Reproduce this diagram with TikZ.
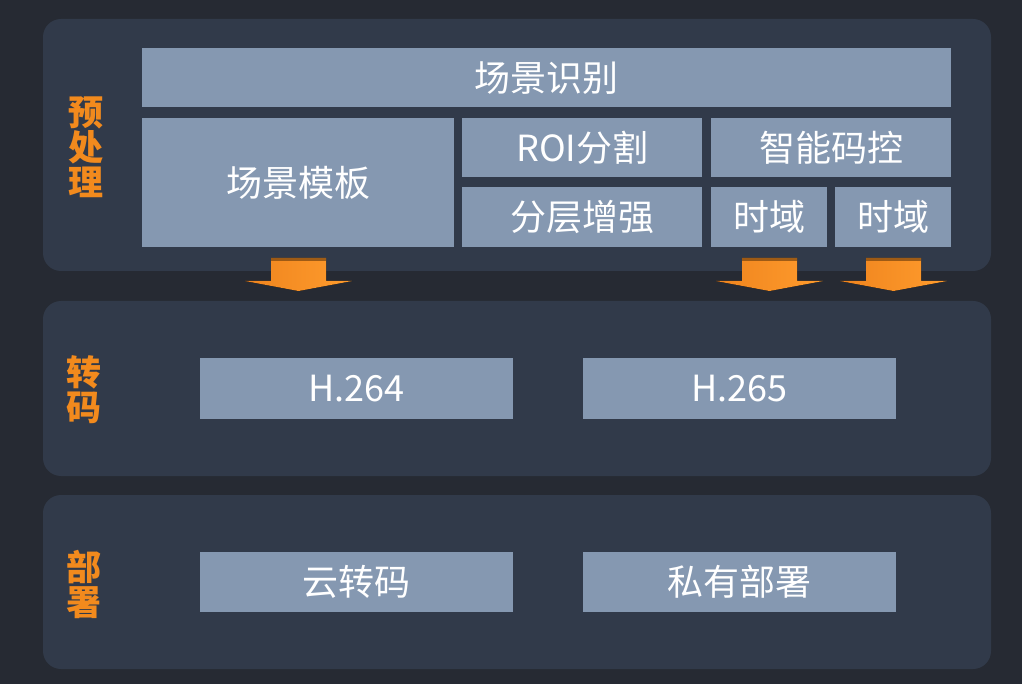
\documentclass[tikz,border=0pt]{standalone}
\usepackage{fontspec}
\setmainfont{Noto Sans CJK SC}
\definecolor{bgc}{HTML}{262A33}
\definecolor{panelc}{HTML}{313A4A}
\definecolor{boxc}{HTML}{8598B1}
\definecolor{orangec}{HTML}{F28A1D}
\definecolor{arrl}{HTML}{EF841E}
\definecolor{arrr}{HTML}{FF9C2D}
\tikzset{
  panel/.style={fill=panelc, draw=none, rounded corners=18pt},
  blk/.style={fill=boxc, draw=none, inner sep=0pt, text=white, font=\fontsize{36}{40}\selectfont},
  sidelabel/.style={text=orangec, font=\fontsize{35}{35}\selectfont\bfseries, align=center, inner sep=0pt},
  arrowshape/.style={left color=arrl, right color=arrr, draw=none},
}
\newcommand{\boxat}[6]{% name, x1, y1, x2, y2, text
  \node[blk, minimum width=#4pt-#2pt, minimum height=#5pt-#3pt, anchor=north west] (#1) at (#2,#3) {#6};}
\newcommand{\downarrowat}[1]{% x of left shaft edge
  \fill[arrowshape] (#1,258) -- ++(55,0) -- ++(0,23) -- ++(26,0) -- ++(-53.5,10) -- ++(-53.5,-10) -- ++(26,0) -- cycle;
  \fill[black!50!orangec, opacity=0.7] (#1,258) rectangle ++(55,3);}
\begin{document}
\begin{tikzpicture}[x=1pt,y=-1pt]
\fill[bgc] (0,0) rectangle (1022,684);
\useasboundingbox (0,0) rectangle (1022,684);
% panels
\fill[panel] (43,19) rectangle (991,271);
\fill[panel] (43,301) rectangle (991,476);
\fill[panel] (43,495) rectangle (991,669);
% preprocess blocks
\boxat{sjsb}{142}{48}{951}{107}{场景识别}
\boxat{sjmb}{142}{118}{454}{247}{场景模板}
\boxat{roi}{462}{118}{702}{177}{ROI分割}
\boxat{znmk}{711}{118}{951}{177}{智能码控}
\boxat{fczq}{462}{187}{702}{247}{分层增强}
\boxat{sy1}{711}{187}{827}{247}{时域}
\boxat{sy2}{835}{187}{951}{247}{时域}
% transcode blocks
\boxat{h264}{200}{358}{513}{419}{H.264}
\boxat{h265}{583}{358}{896}{419}{H.265}
% deploy blocks
\boxat{yzm}{200}{552}{513}{612}{云转码}
\boxat{sybs}{583}{552}{896}{612}{私有部署}
% arrows
\downarrowat{271}
\downarrowat{742}
\downarrowat{866}
% side labels
\node[sidelabel] (lab1) at (86,147) {预\\处\\理};
\node[sidelabel] (lab2) at (84,390) {转\\码};
\node[sidelabel] (lab3) at (84,584) {部\\署};
\end{tikzpicture}
\end{document}
